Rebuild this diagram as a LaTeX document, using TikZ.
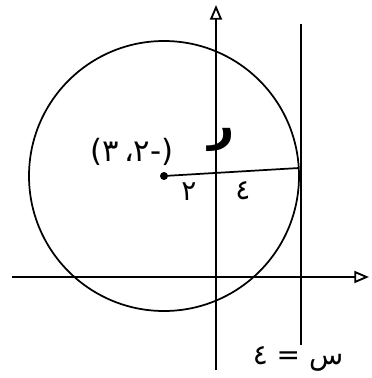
\documentclass[tikz,border=0pt]{standalone}
\usepackage{fontspec}
\newfontfamily\arabicfont[Script=Arabic]{DejaVu Sans}
\TeXXeTstate=1
\usetikzlibrary{arrows.meta}
\begin{document}
\begin{tikzpicture}[x=0.75pt,y=-0.75pt,line width=1.3pt,
	axis/.style = {-{Triangle[open,length=11pt,width=9pt,line width=1.4pt]}},
	lbl/.style = {font=\arabicfont\fontsize{21}{23}\selectfont, inner sep=1pt}]
	\useasboundingbox (0,0) rectangle (371,378);
	% axes
	\coordinate (xl) at (12,277);
	\coordinate (xr) at (369,277);
	\coordinate (yb) at (216,370);
	\coordinate (yt) at (216,5);
	\draw[axis] (xl) -- (xr);
	\draw[axis] (yb) -- (yt);
	% circle and radius
	\coordinate (c) at (164,176);
	\coordinate (t) at (299,168);
	\draw (c) circle (101.25pt);
	\draw (c) -- (t);
	\fill (c) circle (3pt);
	% tangent line
	\coordinate (lt) at (301,24);
	\coordinate (lb) at (301,345);
	\draw[line width=1.6pt] (lt) -- (lb);
	% labels
	\node[lbl] (cname) at (132,152) {\fontsize{23}{25}\selectfont\beginR(-٢،\,٣)\endR};
	\node[lbl] (rname) at (222,140) {\fontsize{34}{36}\selectfont\bfseries ر};
	\node[lbl] (two) at (189,192) {٢};
	\node[lbl] (four) at (243,191) {٤};
	\node[lbl] (eqn) at (298,359) {\beginR س = ٤\endR};
\end{tikzpicture}
\end{document}
